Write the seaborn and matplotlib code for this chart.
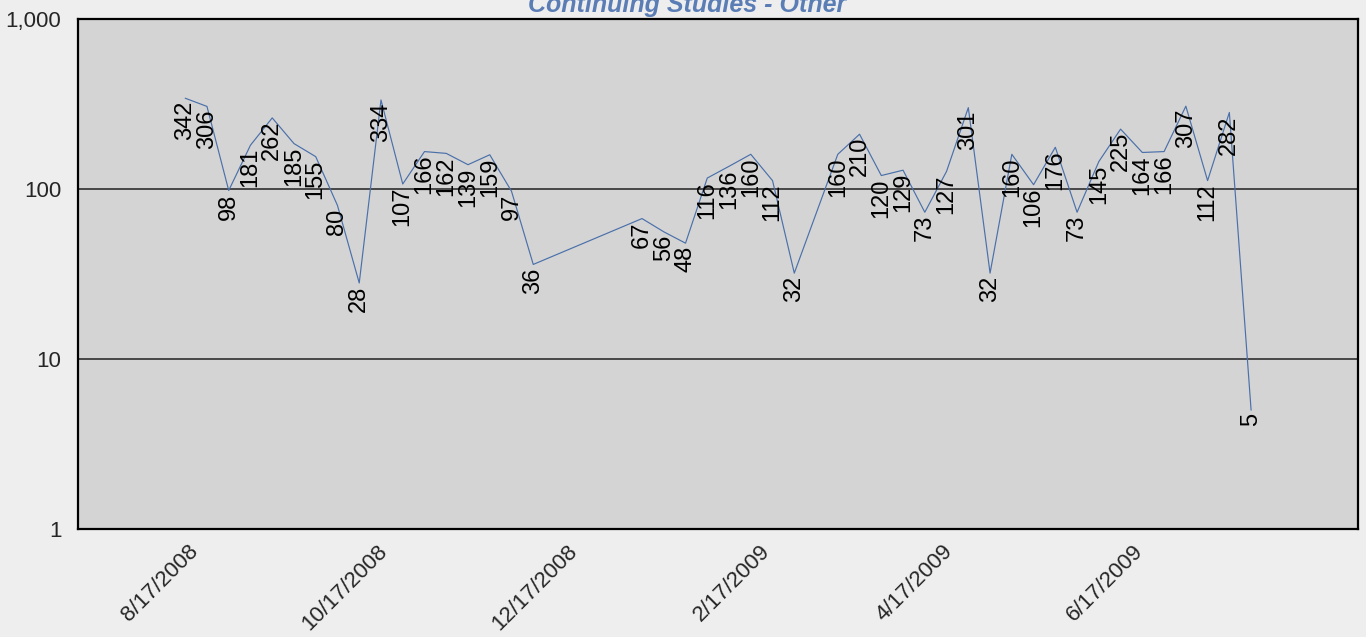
import matplotlib
matplotlib.use("Agg")
import matplotlib.pyplot as plt
import matplotlib.dates as mdates
import matplotlib.ticker as mticker
from matplotlib.transforms import ScaledTranslation
import pandas as pd
import seaborn as sns

# weekly counts (weeks with no data are simply absent)
weeks = [
    "2008-08-17", "2008-08-24", "2008-08-31", "2008-09-07", "2008-09-14",
    "2008-09-21", "2008-09-28", "2008-10-05", "2008-10-12", "2008-10-19",
    "2008-10-26", "2008-11-02", "2008-11-09", "2008-11-16", "2008-11-23",
    "2008-11-30", "2008-12-07",
    "2009-01-11", "2009-01-18", "2009-01-25", "2009-02-01", "2009-02-08",
    "2009-02-15", "2009-02-22", "2009-03-01",
    "2009-03-15", "2009-03-22", "2009-03-29", "2009-04-05", "2009-04-12",
    "2009-04-19", "2009-04-26", "2009-05-03", "2009-05-10", "2009-05-17",
    "2009-05-24", "2009-05-31", "2009-06-07", "2009-06-14", "2009-06-21",
    "2009-06-28", "2009-07-05", "2009-07-12", "2009-07-19", "2009-07-26",
]
counts = [
    342, 306, 98, 181, 262,
    185, 155, 80, 28, 334,
    107, 166, 162, 139, 159,
    97, 36,
    67, 56, 48, 116, 136,
    160, 112, 32,
    160, 210, 120, 129, 73,
    127, 301, 32, 160, 106,
    176, 73, 145, 225, 164,
    166, 307, 112, 282, 5,
]
tick_dates = ["2008-08-17", "2008-10-17", "2008-12-17",
              "2009-02-17", "2009-04-17", "2009-06-17"]
tick_labels = ["8/17/2008", "10/17/2008", "12/17/2008",
               "2/17/2009", "4/17/2009", "6/17/2009"]
y_ticks = [1, 10, 100, 1000]
y_labels = ["1", "10", "100", "1,000"]
title = "Continuing Studies - Other"

df = pd.DataFrame({"week": pd.to_datetime(weeks), "count": counts})

sns.set_style("white")
plt.rcParams['font.family'] = ['Liberation Sans', 'DejaVu Sans']

fig = plt.figure(figsize=(13.66, 6.37), dpi=100, facecolor='#eeeeee')
ax = fig.add_axes([78 / 1366, 1 - 529 / 637, (1358 - 78) / 1366, (529 - 19) / 637])
ax.set_facecolor('#d4d4d4')

sns.lineplot(data=df, x="week", y="count", ax=ax, color='#4a70aa', linewidth=0.85)

ax.set_yscale('log')
ax.set_ylim(1, 1000)
ax.set_xlim(mdates.date2num(pd.Timestamp("2008-08-17")) - 34.5,
            mdates.date2num(pd.Timestamp("2009-06-17")) + 73.4)

ax.set_yticks(y_ticks)
ax.set_yticklabels(y_labels, fontsize=16)
ax.yaxis.set_minor_locator(mticker.NullLocator())
ax.set_xticks(mdates.date2num(pd.to_datetime(tick_dates)))
ax.set_xticklabels(tick_labels, rotation=45, ha='right', fontsize=16)
ax.tick_params(axis='x', direction='inout', length=11, width=1, color='black', pad=3)
ax.tick_params(axis='y', length=0, pad=12)
shift = ScaledTranslation(17 / 100, 0, fig.dpi_scale_trans)
for lbl in ax.get_xticklabels():
    lbl.set_transform(lbl.get_transform() + shift)

ax.yaxis.grid(True, color='#3c3c3c', linewidth=1.3)
ax.xaxis.grid(False)
for sp in ax.spines.values():
    sp.set_visible(True)
    sp.set_color('black')
    sp.set_linewidth(1.6)
ax.set_xlabel('')
ax.set_ylabel('')

# data labels, rotated and hung below each point
for d, v in zip(mdates.date2num(df["week"]), df["count"]):
    ax.annotate(str(v), (d, v), xytext=(0, -2), textcoords='offset points',
                rotation=90, ha='center', va='top', fontsize=17, color='black')

fig.text(0.503, 1 - 12 / 637, title, ha='center', va='baseline', fontsize=18,
         fontweight='bold', fontstyle='italic', color='#5a7db5')

fig.savefig('out.png', dpi=100, facecolor=fig.get_facecolor())
